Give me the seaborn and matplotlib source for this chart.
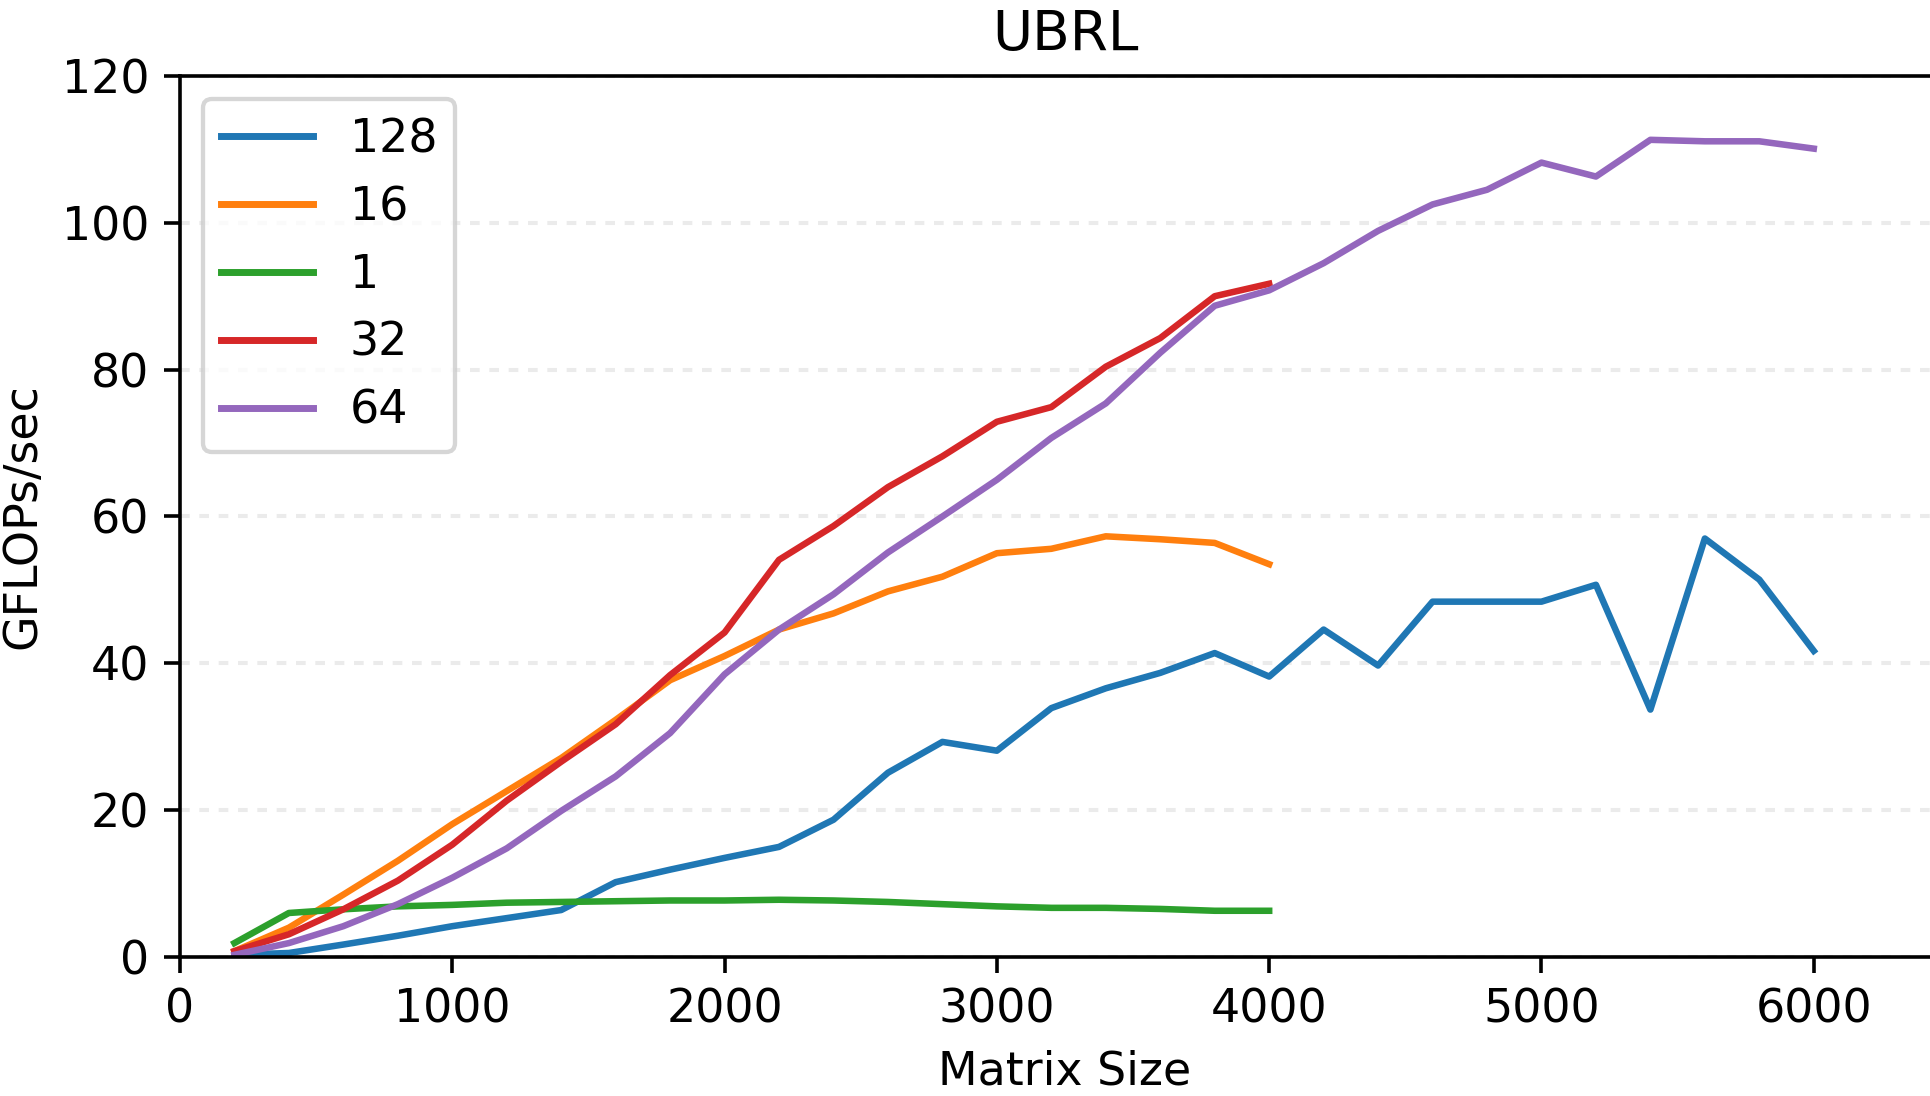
import matplotlib
matplotlib.use("Agg")
import matplotlib.pyplot as plt
import seaborn as sns
import pandas as pd

# Matrix sizes that were benchmarked
sizes_to_4000 = [200, 400, 600, 800, 1000, 1200, 1400, 1600, 1800, 2000,
                 2200, 2400, 2600, 2800, 3000, 3200, 3400, 3600, 3800, 4000]
sizes_to_6000 = sizes_to_4000 + [4200, 4400, 4600, 4800, 5000,
                                 5200, 5400, 5600, 5800, 6000]

# Throughput (GFLOPs/sec) per block size
gflops_128 = [0.3, 0.55, 1.7, 2.9, 4.2, 5.3, 6.4, 10.2, 11.9, 13.5,
              15.0, 18.7, 25.1, 29.3, 28.1, 33.9, 36.6, 38.7, 41.4, 38.2,
              44.6, 39.7, 48.4, 48.4, 48.4, 50.7, 33.7, 57.0, 51.4, 41.7]
gflops_16 = [0.8, 4.0, 8.5, 13.1, 18.1, 22.6, 27.1, 32.3, 37.7, 41.0,
             44.6, 46.8, 49.8, 51.8, 55.0, 55.6, 57.3, 56.9, 56.4, 53.5]
gflops_1 = [1.9, 6.0, 6.5, 6.9, 7.1, 7.4, 7.5, 7.6, 7.7, 7.7,
            7.8, 7.7, 7.5, 7.2, 6.9, 6.7, 6.7, 6.55, 6.3, 6.3]
gflops_32 = [0.8, 3.1, 6.5, 10.4, 15.3, 21.3, 26.6, 31.7, 38.4, 44.2,
             54.1, 58.7, 64.0, 68.2, 72.9, 74.9, 80.4, 84.3, 90.0, 91.7]
gflops_64 = [0.3, 1.9, 4.2, 7.2, 10.8, 14.8, 19.9, 24.6, 30.5, 38.5,
             44.6, 49.4, 55.1, 60.0, 65.0, 70.7, 75.4, 82.3, 88.7, 90.8,
             94.5, 98.9, 102.5, 104.5, 108.2, 106.3, 111.3, 111.1, 111.1, 110.1]

block_order = ["128", "16", "1", "32", "64"]
series = {
    "128": (sizes_to_6000, gflops_128),
    "16": (sizes_to_4000, gflops_16),
    "1": (sizes_to_4000, gflops_1),
    "32": (sizes_to_4000, gflops_32),
    "64": (sizes_to_6000, gflops_64),
}

frames = []
for name in block_order:
    xs, ys = series[name]
    frames.append(pd.DataFrame({"Matrix Size": xs, "GFLOPs/sec": ys, "block": name}))
df = pd.concat(frames, ignore_index=True)

plt.rcParams["font.family"] = ["DejaVu Sans"]

fig = plt.figure(figsize=(19.31, 10.96), dpi=100)
ax = fig.add_axes([0.0932, 0.1268, 0.9166, 0.8039])

sns.lineplot(data=df, x="Matrix Size", y="GFLOPs/sec", hue="block",
             hue_order=block_order, palette="tab10", linewidth=4.7,
             ax=ax, legend="full")

ax.set_xlim(0, 6500)
ax.set_ylim(0, 120)
ax.set_xticks([0, 1000, 2000, 3000, 4000, 5000, 6000])
ax.set_yticks([0, 20, 40, 60, 80, 100, 120])

ax.set_axisbelow(True)
ax.yaxis.grid(True, linestyle=(0, (2.4, 2.4)), color="#ebebeb", linewidth=2.9)
ax.xaxis.grid(False)

for side in ax.spines.values():
    side.set_linewidth(2.6)
    side.set_color("black")

ax.tick_params(axis="both", which="major", labelsize=33, length=11.5,
               width=2.6, pad=10.5, color="black")

ax.set_xlabel("Matrix Size", fontsize=33, labelpad=12)
ax.set_ylabel("GFLOPs/sec", fontsize=33, labelpad=12)
ax.set_title("UBRL", fontsize=39.5, pad=18.6)

handles, labels = ax.get_legend_handles_labels()
leg = ax.legend(handles, labels, loc="upper left", fontsize=33,
                handlelength=2.0, frameon=True)
leg.get_frame().set_linewidth(3.1)
for line in leg.get_lines():
    line.set_linewidth(5.0)

fig.savefig("out.png", dpi=100)
